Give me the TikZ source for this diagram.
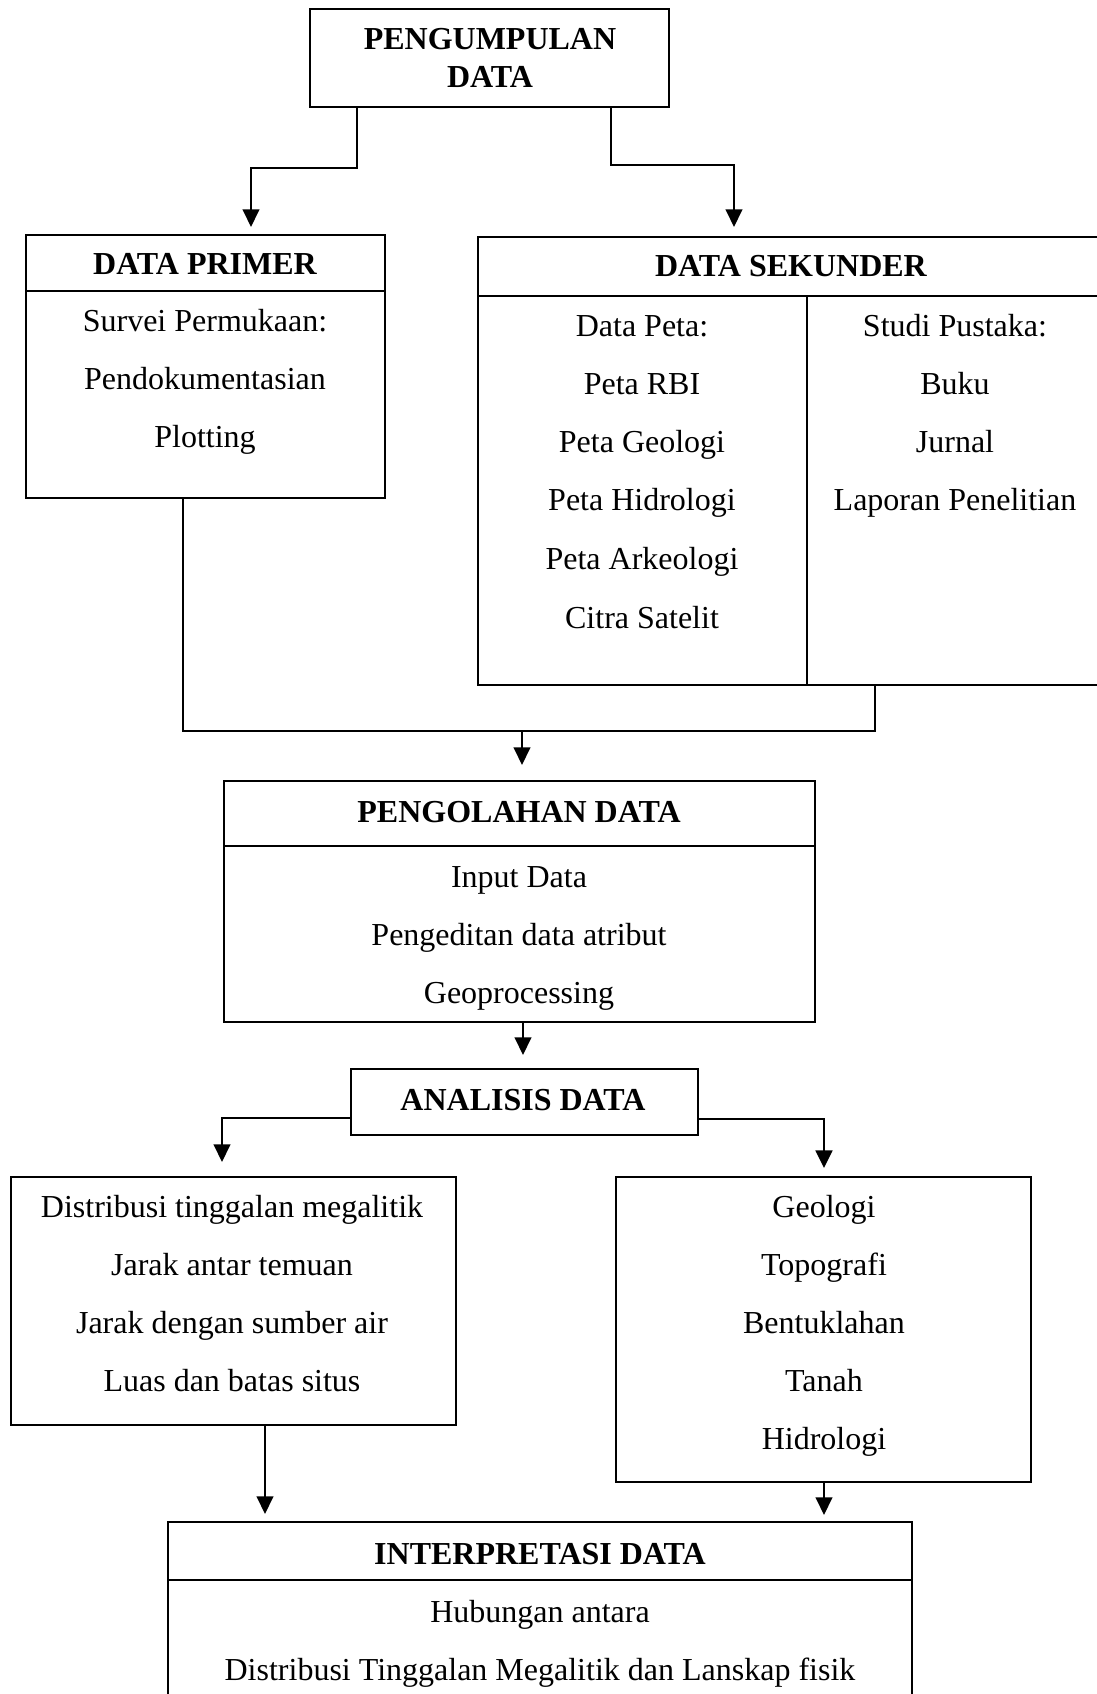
\documentclass[tikz,border=0pt]{standalone}
\usepackage{fontspec}
\setmainfont{Liberation Serif}
\usetikzlibrary{arrows.meta,fit}
\begin{document}
\begin{tikzpicture}[x=0.375pt,y=-0.375pt,
  box/.style={draw,line width=0.8pt,inner sep=0pt},
  txt/.style={font=\fontsize{12}{14}\selectfont,inner sep=0pt,text height=8pt,text depth=0pt},
  hd/.style={txt,font=\fontsize{12}{14}\selectfont\bfseries},
  conn/.style={line width=0.8pt},
  arr/.style={conn,-{Triangle[length=6.6pt,width=6.2pt]}}]
\useasboundingbox (0,0) rectangle (1097,1694);
\clip (0,0) rectangle (1097,1694);

% PENGUMPULAN DATA
\node[box,fit={(310,9)(669,107)}] (pd) {};
\node[hd] (pdt1) at (490,39) {PENGUMPULAN};
\node[hd] (pdt2) at (490,77) {DATA};

% DATA PRIMER
\node[box,fit={(26,235)(385,498)}] (primer) {};
\draw[conn] (26,291) -- (385,291);
\node[hd] (pr0) at (205,264) {DATA PRIMER};
\node[txt] (pr1) at (205,321) {Survei Permukaan:};
\node[txt] (pr2) at (205,379) {Pendokumentasian};
\node[txt] (pr3) at (205,437) {Plotting};

% DATA SEKUNDER
\node[box,fit={(478,237)(1104,685)}] (sek) {};
\draw[conn] (478,296) -- (1104,296);
\draw[conn] (807,296) -- (807,685);
\node[hd] (sk0) at (791,266) {DATA SEKUNDER};
\node[txt] (sa1) at (642,326) {Data Peta:};
\node[txt] (sa2) at (642,384) {Peta RBI};
\node[txt] (sa3) at (642,442) {Peta Geologi};
\node[txt] (sa4) at (642,500) {Peta Hidrologi};
\node[txt] (sa5) at (642,559) {Peta Arkeologi};
\node[txt] (sa6) at (642,618) {Citra Satelit};
\node[txt] (sb1) at (955,326) {Studi Pustaka:};
\node[txt] (sb2) at (955,384) {Buku};
\node[txt] (sb3) at (955,442) {Jurnal};
\node[txt] (sb4) at (955,500) {Laporan Penelitian};

% PENGOLAHAN DATA
\node[box,fit={(224,781)(815,1022)}] (olah) {};
\draw[conn] (224,846) -- (815,846);
\node[hd] (ol0) at (519,812) {PENGOLAHAN DATA};
\node[txt] (ol1) at (519,877) {Input Data};
\node[txt] (ol2) at (519,935) {Pengeditan data atribut};
\node[txt] (ol3) at (519,993) {Geoprocessing};

% ANALISIS DATA
\node[box,fit={(351,1069)(698,1135)}] (ana) {};
\node[hd] (an0) at (523,1100) {ANALISIS DATA};

% left analysis box
\node[box,fit={(11,1177)(456,1425)}] (kiri) {};
\node[txt] (k1) at (232,1207) {Distribusi tinggalan megalitik};
\node[txt] (k2) at (232,1265) {Jarak antar temuan};
\node[txt] (k3) at (232,1323) {Jarak dengan sumber air};
\node[txt] (k4) at (232,1381) {Luas dan batas situs};

% right analysis box
\node[box,fit={(616,1177)(1031,1482)}] (kanan) {};
\node[txt] (r1) at (824,1207) {Geologi};
\node[txt] (r2) at (824,1265) {Topografi};
\node[txt] (r3) at (824,1323) {Bentuklahan};
\node[txt] (r4) at (824,1381) {Tanah};
\node[txt] (r5) at (824,1439) {Hidrologi};

% INTERPRETASI DATA
\node[box,fit={(168,1522)(912,1720)}] (interp) {};
\draw[conn] (168,1580) -- (912,1580);
\node[hd] (in0) at (540,1554) {INTERPRETASI DATA};
\node[txt] (in1) at (540,1612) {Hubungan antara};
\node[txt] (in2) at (540,1670) {Distribusi Tinggalan Megalitik dan Lanskap fisik};

% connectors
\coordinate (c1) at (357,168);
\coordinate (c2) at (251,227);
\coordinate (c3) at (611,165);
\coordinate (c4) at (734,227);
\draw[arr] (pd.south -| c1) -- (c1) -| (c2);
\draw[arr] (pd.south -| c3) -- (c3) -| (c4);

\coordinate (m1) at (183,731);
\coordinate (m2) at (875,731);
\coordinate (m3) at (522,731);
\coordinate (m4) at (522,765);
\draw[conn] (primer.south -| m1) -- (m1) -- (m2) -- (sek.south -| m2);
\draw[arr] (m3) -- (m4);

\coordinate (o1) at (523,1055);
\draw[arr] (olah.south -| o1) -- (o1);

\coordinate (a1) at (222,1118);
\coordinate (a2) at (222,1162);
\coordinate (b1) at (824,1119);
\coordinate (b2) at (824,1168);
\draw[arr] (ana.west |- a1) -- (a1) -- (a2);
\draw[arr,line width=1.1pt] (ana.east |- b1) -- (b1) -- (b2);

\coordinate (d1) at (265,1514);
\coordinate (d2) at (824,1515);
\draw[arr] (kiri.south -| d1) -- (d1);
\draw[arr] (kanan.south -| d2) -- (d2);
\end{tikzpicture}
\end{document}
